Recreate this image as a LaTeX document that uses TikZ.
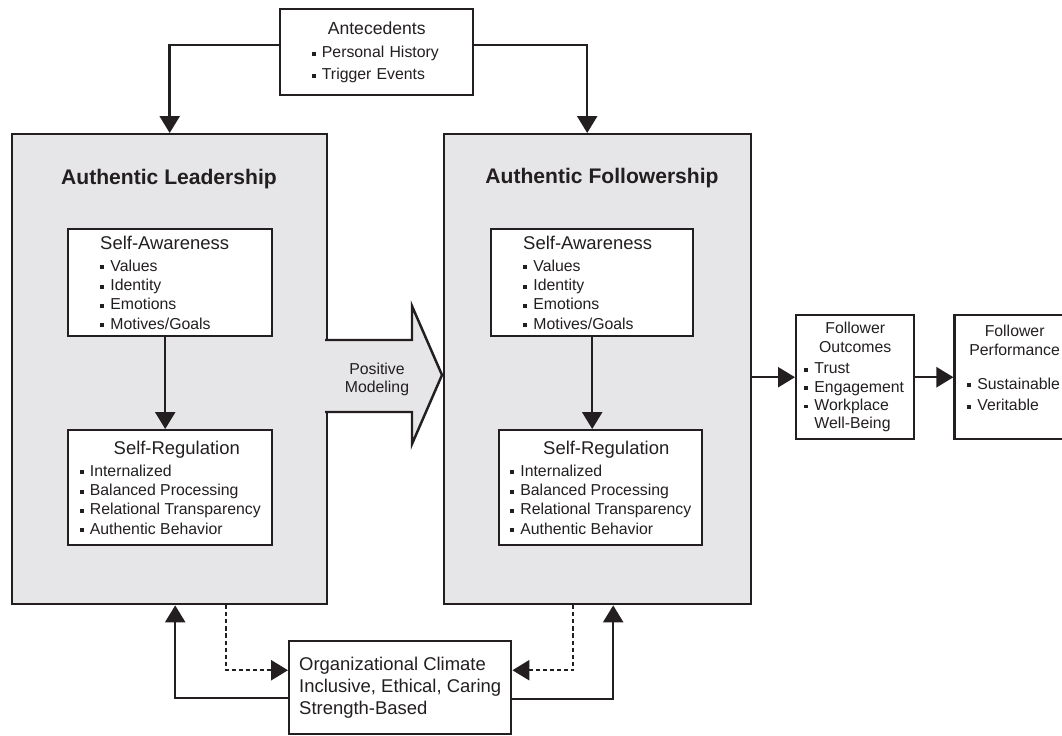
\documentclass[tikz,border=0pt]{standalone}
\usepackage{fontspec}
\setmainfont{Liberation Sans}
\usetikzlibrary{arrows.meta,positioning}
\definecolor{ink}{RGB}{35,31,32}
\definecolor{panelgray}{RGB}{230,230,232}
\newcommand{\bul}{\mbox{\rule[0.25ex]{2.2pt}{2.2pt}\hspace{3.6pt}}}
\newcommand{\ctr}[1]{\makebox[\linewidth]{#1}}
\tikzset{
 box/.style={draw=ink, line width=1.4pt, fill=white, inner sep=0pt, anchor=north west},
 panelbox/.style={box, fill=panelgray},
 head/.style={font=\bfseries\fontsize{12}{14}\selectfont},
 small/.style={font=\fontsize{9}{11}\selectfont},
 arr/.style={draw=ink, line width=1.4pt, -{Triangle[length=0.34cm,width=0.4cm]}},
 dotarr/.style={arr, dash pattern=on 2.3pt off 1.7pt},
}
\begin{document}
\begin{tikzpicture}[x=0.02cm, y=-0.02cm, color=ink]
 \useasboundingbox[fill=white] (0,0) rectangle (1062,735);
 \node (lead) [panelbox, minimum width=6.3cm, minimum height=9.4cm] at (11,133) {};
 \node (foll) [panelbox, minimum width=6.14cm, minimum height=9.4cm] at (443,133) {};
 \node (leadt) [head] at (169,179) {Authentic Leadership};
 \node (follt) [head] at (602,178) {Authentic Followership};

 % big arrow between the two panels
 \filldraw[fill=panelgray, draw=none] (323,340) -- (412,340) -- (412,306) -- (442,375) -- (412,444) -- (412,412) -- (323,412) -- cycle;
 \draw[line width=1.4pt, line join=miter] (325,340) -- (412,340) -- (412,306) -- (442,375) -- (412,444) -- (412,412) -- (325,412);
 \node (model) [font=\fontsize{9}{10.2}\selectfont, align=center] at (377,379) {Positive\\Modeling};

 \node (ante) [box, text width=2.6cm, inner xsep=0.63cm, minimum height=1.72cm,
   font=\fontsize{9}{12.5}\selectfont, align=left] at (279,8)
   {\ctr{\fontsize{10}{12}\selectfont Antecedents}\\[1pt]\bul Personal History\\\bul Trigger Events};

 \node (lsa) [box, small, text width=2.8cm, inner xsep=0.64cm, minimum height=2.14cm, align=left] at (67,228)
   {{\fontsize{10.5}{12}\selectfont Self-Awareness}\\[1.5pt]\bul Values\\\bul Identity\\\bul Emotions\\\bul Motives/Goals};
 \node (fsa) [box, small, text width=2.76cm, inner xsep=0.64cm, minimum height=2.14cm, align=left] at (490,228)
   {{\fontsize{10.5}{12}\selectfont Self-Awareness}\\[1.5pt]\bul Values\\\bul Identity\\\bul Emotions\\\bul Motives/Goals};
 \node (lsr) [box, small, minimum width=4.08cm, minimum height=2.3cm, align=left] at (67,429)
   {\hspace*{0.68cm}{\fontsize{10.5}{12}\selectfont Self-Regulation}\\[1.5pt]\bul Internalized\\\bul Balanced Processing\\\bul Relational Transparency\\\bul Authentic Behavior};
 \node (fsr) [box, small, minimum width=4.06cm, minimum height=2.3cm, align=left] at (498,429)
   {\hspace*{0.66cm}{\fontsize{10.5}{12}\selectfont Self-Regulation}\\[1.5pt]\bul Internalized\\\bul Balanced Processing\\\bul Relational Transparency\\\bul Authentic Behavior};

 \node (outc) [box, font=\fontsize{9}{10.4}\selectfont, text width=2.04cm, inner xsep=0.16cm, minimum height=2.48cm, align=left] at (795,314)
   {\ctr{Follower}\\\ctr{Outcomes}\\[2pt]\bul Trust\\\bul Engagement\\\bul Workplace\\\phantom{\bul}Well-Being};
 \node (perf) [box, font=\fontsize{9}{10.4}\selectfont, text width=1.9cm, inner xsep=0.25cm, minimum height=2.48cm, align=left, right=0.76cm of outc]
   {\ctr{Follower}\\\ctr{Performance}\\[9pt]\bul Sustainable\\[2pt]\bul Veritable\\\mbox{}};

 \node (clim) [box, font=\fontsize{10.5}{12.5}\selectfont, minimum width=4.44cm, minimum height=1.86cm, align=left] at (288,640)
   {Organizational Climate\\Inclusive, Ethical, Caring\\Strength-Based};

 \coordinate (lsaout) at ([xshift=-0.1cm]lsa.south);
 \draw[arr] ([yshift=0.14cm]ante.west) -| (lead.north);
 \draw[arr] ([yshift=0.14cm]ante.east) -| ([xshift=-0.21cm]foll.north);
 \draw[arr] (lsaout) -- (lsaout |- lsr.north);
 \draw[arr] (fsa.south) -- (fsa.south |- fsr.north);
 \draw[arr] (foll.east |- outc.west) -- (outc.west);
 \draw[arr] (outc.east) -- (perf.west);
 \draw[arr] ([yshift=-0.21cm]clim.west) -| ([xshift=0.11cm]lead.south);
 \draw[arr] ([yshift=-0.23cm]clim.east) -| ([xshift=0.31cm]foll.south);
 \draw[dotarr] ([xshift=1.13cm]lead.south) |- ([yshift=0.35cm]clim.west);
 \draw[dotarr] ([xshift=-0.49cm]foll.south) |- ([yshift=0.35cm]clim.east);
\end{tikzpicture}
\end{document}
